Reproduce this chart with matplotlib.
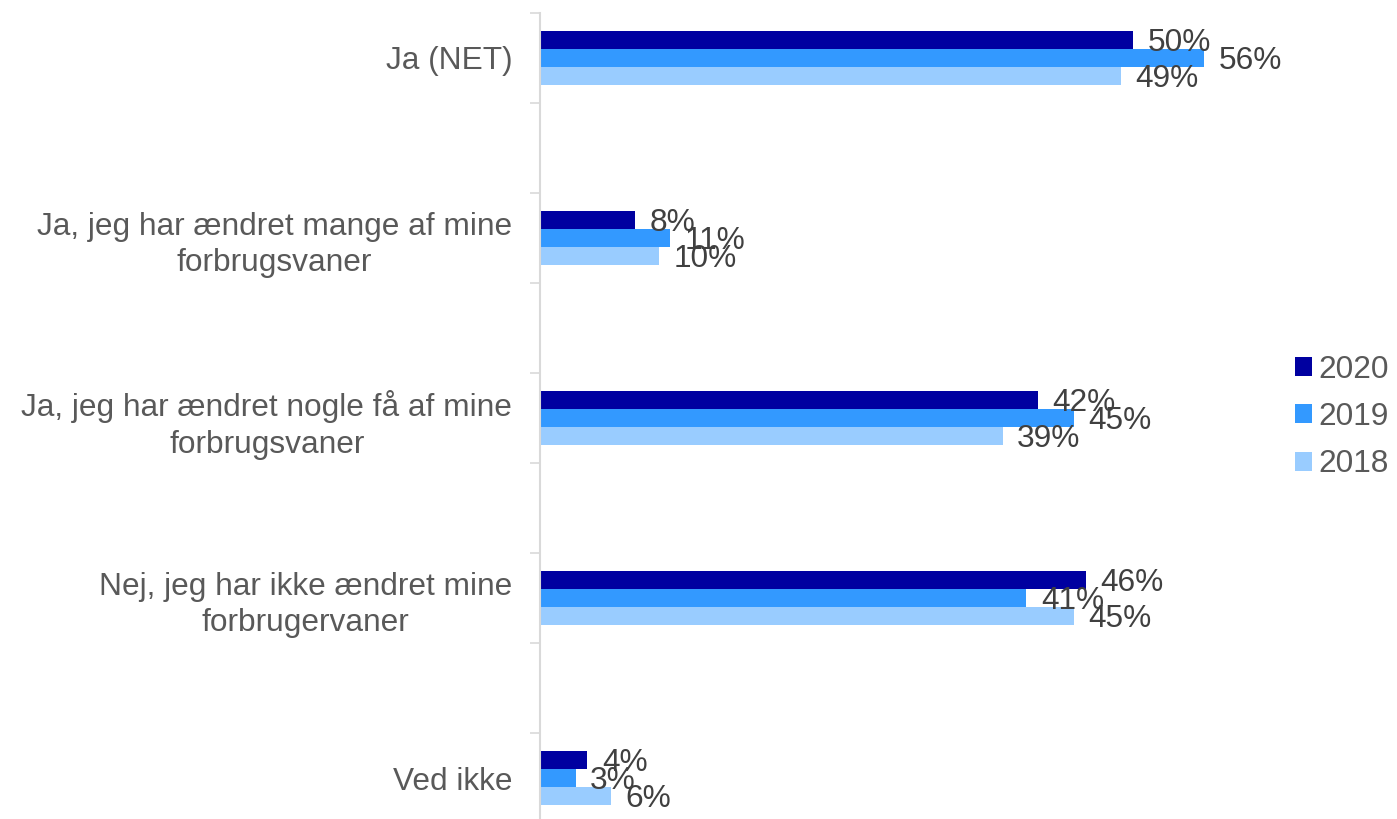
import matplotlib
matplotlib.use('Agg')
import matplotlib.pyplot as plt
import numpy as np

plt.rcParams['font.family'] = ['Liberation Sans', 'DejaVu Sans']

categories = ['Ja (NET)',
              'Ja, jeg har ændret mange af mine\nforbrugsvaner',
              'Ja, jeg har ændret nogle få af mine\nforbrugsvaner',
              'Nej, jeg har ikke ændret mine\nforbrugervaner',
              'Ved ikke']
years = ['2020', '2019', '2018']
v2020 = [50, 8, 42, 46, 4]
v2019 = [56, 11, 45, 41, 3]
v2018 = [49, 10, 39, 45, 6]

colors = ['#0000A0', '#3399FF', '#99CCFF']
txt = '#595959'
fs = 22.8

fig = plt.figure(figsize=(13.97, 8.19), dpi=100)
ax = fig.add_axes([540 / 1397, -4 / 819, 711.6 / 1397, 810 / 819])

# every other slot is left empty, like the original
centers = np.arange(len(categories)) * 2 + 0.5
h = 0.2
for i, (vals, yr) in enumerate(zip([v2020, v2019, v2018], years)):
    ys = centers + (i - 1) * h
    ax.barh(ys, vals, height=h, color=colors[i], label=yr)
    for y, v in zip(ys, vals):
        ax.annotate(f'{v}%', (v, y), xytext=(10.5, -2), textcoords='offset points',
                    ha='left', va='center', fontsize=fs, color='#404040')

ax.set_xlim(0, 60)
ax.set_ylim(9, 0)
ax.set_xticks([])
ax.set_yticks(np.arange(0, 10))
ax.set_yticklabels([])
ax.set_yticks(centers, minor=True)
ax.set_yticklabels(categories, minor=True, fontsize=fs, color=txt)
for lab in ax.get_yticklabels(minor=True):
    lab.set_multialignment('center')
    lab.set_linespacing(1.3)
ax.tick_params(axis='y', which='major', length=7.2, width=1.2, color='#D9D9D9')
ax.tick_params(axis='y', which='minor', length=0, pad=20)
for s in ['top', 'right', 'bottom']:
    ax.spines[s].set_visible(False)
ax.spines['left'].set_color('#D9D9D9')
ax.spines['left'].set_linewidth(1.5)

fig.legend(loc='center left', bbox_to_anchor=(1295 / 1397, (819 - 417) / 819),
           frameon=False, fontsize=fs, labelcolor=txt, handlelength=0.53,
           handleheight=0.53, handletextpad=0.2, labelspacing=0.55,
           borderpad=0, borderaxespad=0)

fig.savefig('out.png', dpi=100)
